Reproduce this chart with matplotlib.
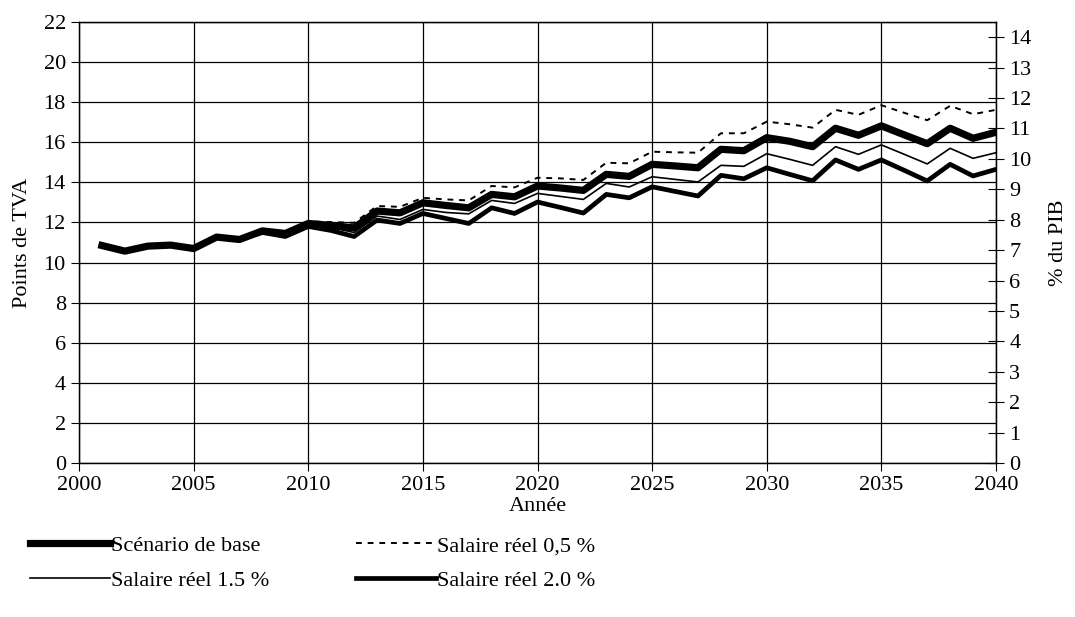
import matplotlib
matplotlib.use("Agg")
import matplotlib.pyplot as plt

plt.rcParams['font.family'] = ['Liberation Serif', 'DejaVu Serif']

years = list(range(2001, 2041))

common = [10.85, 10.57, 10.82, 10.87, 10.70, 11.27, 11.15]

base = common + [11.58, 11.45, 11.95, 11.85, 11.73, 12.57, 12.48, 12.98, 12.85,
                 12.73, 13.40, 13.28, 13.82, 13.72, 13.60, 14.40, 14.30, 14.90,
                 14.82, 14.73, 15.65, 15.58, 16.23, 16.05, 15.78, 16.70, 16.35,
                 16.82, 16.37, 15.93, 16.70, 16.20, 16.50]

sal_05 = common + [11.62, 11.50, 12.05, 12.02, 11.98, 12.82, 12.78, 13.23, 13.15,
                   13.10, 13.82, 13.75, 14.23, 14.20, 14.12, 14.98, 14.95, 15.53,
                   15.50, 15.48, 16.45, 16.45, 17.03, 16.90, 16.73, 17.62, 17.37,
                   17.85, 17.47, 17.10, 17.82, 17.40, 17.62]

sal_15 = common + [11.55, 11.40, 11.88, 11.75, 11.50, 12.32, 12.15, 12.65, 12.50,
                   12.43, 13.10, 12.95, 13.45, 13.30, 13.15, 13.95, 13.77, 14.28,
                   14.15, 14.02, 14.85, 14.80, 15.43, 15.15, 14.85, 15.78, 15.40,
                   15.87, 15.40, 14.92, 15.70, 15.20, 15.48]

sal_20 = common + [11.50, 11.30, 11.80, 11.60, 11.30, 12.12, 11.95, 12.45, 12.20,
                   11.95, 12.73, 12.45, 13.02, 12.75, 12.47, 13.40, 13.23, 13.78,
                   13.55, 13.32, 14.35, 14.18, 14.73, 14.40, 14.08, 15.12, 14.65,
                   15.12, 14.60, 14.07, 14.90, 14.32, 14.65]

left_ticks = list(range(0, 23, 2))
right_ticks = list(range(0, 15))
x_ticks = list(range(2000, 2041, 5))

fs = 16

fig = plt.figure(figsize=(10.75, 6.17), dpi=100)
ax = fig.add_axes([0.0735, 0.2496, 0.853, 0.7147])

l05, = ax.plot(years, sal_05, color='black', lw=1.4, ls=(0, (3, 3)), label='Salaire réel 0,5 %')
l15, = ax.plot(years, sal_15, color='black', lw=1.2, label='Salaire réel 1.5 %')
l20, = ax.plot(years, sal_20, color='black', lw=3.4, label='Salaire réel 2.0 %')
lb, = ax.plot(years, base, color='black', lw=5.2, label='Scénario de base')

ax.set_xlim(2000, 2040)
ax.set_ylim(0, 22)
ax.set_xticks(x_ticks)
ax.set_yticks(left_ticks)
ax.grid(True, color='black', lw=0.9)
ax.set_axisbelow(True)
ax.tick_params(labelsize=fs, direction='out', length=6, color='black')
ax.set_xlabel('Année', fontsize=fs, labelpad=1)
ax.set_ylabel('Points de TVA', fontsize=fs, labelpad=8)
for s in ax.spines.values():
    s.set_color('black')
    s.set_linewidth(0.9)

ax2 = ax.twinx()
ax2.set_ylim(0, 22 * 0.659)
ax2.set_yticks(right_ticks)
ax2.tick_params(labelsize=fs, direction='inout', length=12, color='black')
ax2.set_ylabel('% du PIB', fontsize=fs, labelpad=13)
for s in ax2.spines.values():
    s.set_linewidth(0.9)

fig.legend(handles=[lb, l15, l05, l20], ncol=2, loc='upper left',
           bbox_to_anchor=(0.028, 0.132), frameon=False, fontsize=fs,
           handlelength=3.6, handletextpad=0.05, columnspacing=3.9,
           labelspacing=0.65, borderaxespad=0, borderpad=0)

fig.savefig('out.png', dpi=100)
